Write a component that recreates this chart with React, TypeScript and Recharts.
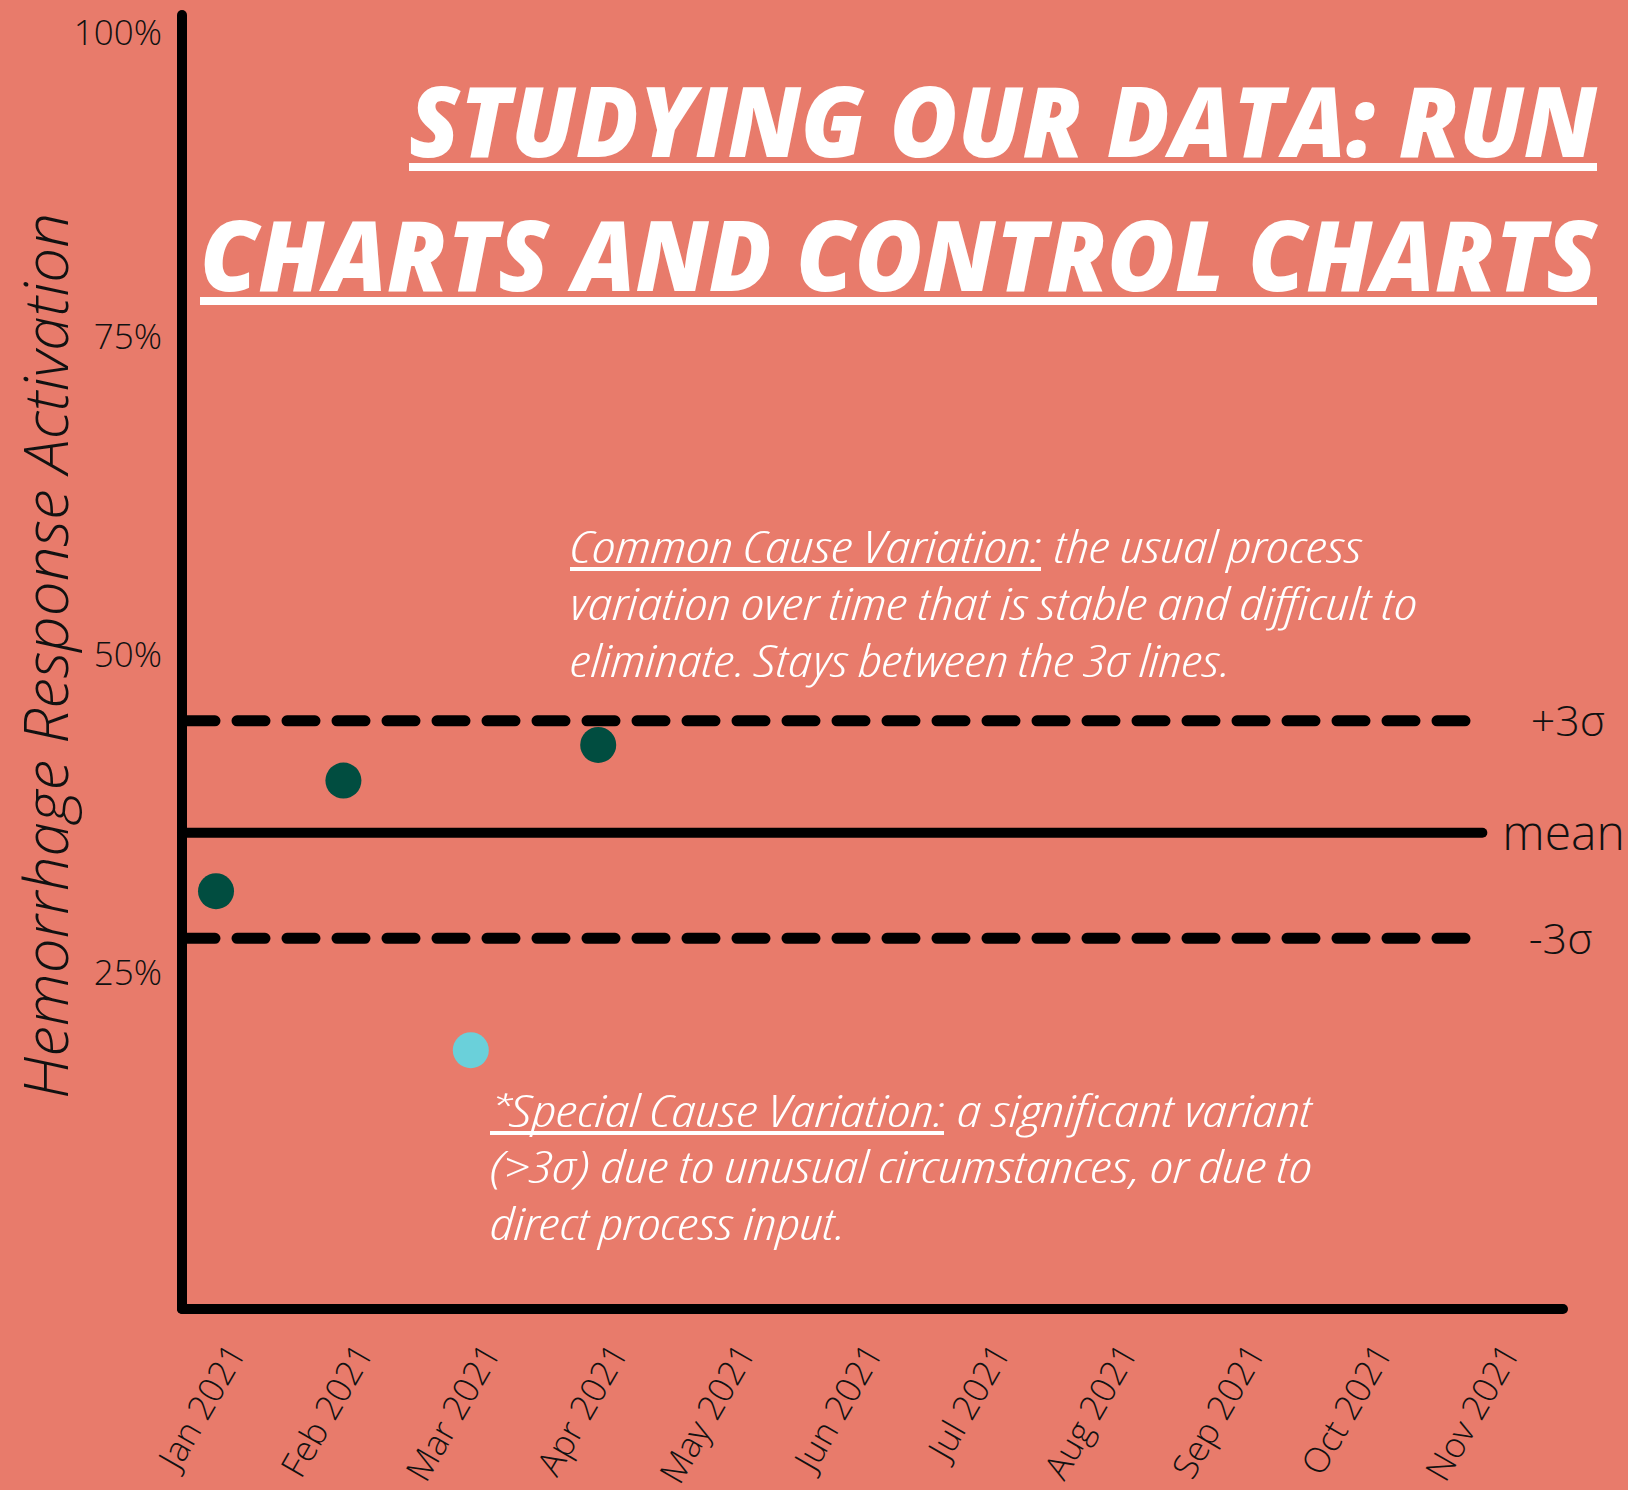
import React from 'react';
import { ScatterChart, Scatter, XAxis, YAxis, ReferenceLine } from 'recharts';

// months on the x axis
const months = [
  'Jan 2021', 'Feb 2021', 'Mar 2021', 'Apr 2021', 'May 2021', 'Jun 2021',
  'Jul 2021', 'Aug 2021', 'Sep 2021', 'Oct 2021', 'Nov 2021',
];

// measured activation (%) for the months that have data
const activation = [31.4, 40.1, 18.9, 42.9];
const specialCause = [false, false, true, false];

const yTicks = [25, 50, 75, 100];

// control limits
const meanValue = 36;
const upperLimit = 44.8;
const lowerLimit = 27.7;

const BG = '#E87B6B';
const DARK = '#014D40';
const CYAN = '#6AD0DA';
const INK = '#111111';
const FONT = "'Open Sans', 'Noto Sans', sans-serif";

const points = activation.map((v, i) => ({ m: i, v, special: specialCause[i] }));

const axisLineStyle = { stroke: '#000', strokeWidth: 10, strokeLinecap: 'round' as const };

const MonthTick = (props: any) => {
  const { x, y, payload } = props;
  const ax = x + 31;
  const ay = y + 44;
  return (
    <text
      x={ax}
      y={ay}
      textAnchor="end"
      transform={`rotate(-60, ${ax}, ${ay})`}
      fontSize={35}
      fontWeight={300}
      fill={INK}
      fontFamily={FONT}
    >
      {months[payload.value]}
    </text>
  );
};

const PercentTick = (props: any) => {
  const { x, y, payload } = props;
  // keep the top label inside the page
  const ty = Math.max(y, 33);
  return (
    <text x={x} y={ty} dy="0.35em" textAnchor="end" fontSize={35} fontWeight={300} fill={INK} fontFamily={FONT}>
      {payload.value}%
    </text>
  );
};

const Dot = (p: any) => (
  <circle cx={p.cx} cy={p.cy} r={18} fill={p.payload.special ? CYAN : DARK} />
);

const limitLabel = (value: string, offset: number) => ({
  value,
  position: 'right' as const,
  offset,
  fill: INK,
  fontSize: value === 'mean' ? 48 : 43,
  fontWeight: 300,
  fontFamily: FONT,
});

const noteStyle = {
  fontFamily: FONT,
  fontStyle: 'italic',
  fontWeight: 300,
  fontStretch: 'condensed',
} as React.CSSProperties;

const X_MIN = -0.267;

export default function App() {
  return (
    <div style={{ position: 'absolute', left: 0, top: 0, width: 1628, height: 1490, background: BG, overflow: 'hidden' }}>
      <ScatterChart width={1628} height={1490} margin={{ top: 15, right: 65, bottom: 0, left: 0 }}>
        <XAxis
          dataKey="m"
          type="number"
          domain={[X_MIN, 10.573]}
          ticks={months.map((_, i) => i)}
          allowDataOverflow
          height={181}
          axisLine={axisLineStyle}
          tickLine={false}
          tickSize={0}
          tickMargin={0}
          tick={<MonthTick />}
          interval={0}
        />
        <YAxis
          dataKey="v"
          type="number"
          domain={[-1.45, 100.3]}
          ticks={yTicks}
          allowDataOverflow
          width={182}
          axisLine={axisLineStyle}
          tickLine={false}
          tickSize={0}
          tickMargin={20}
          tick={<PercentTick />}
          interval={0}
        />
        <ReferenceLine
          segment={[{ x: X_MIN, y: upperLimit }, { x: 9.81, y: upperLimit }]}
          stroke="#000"
          strokeWidth={11}
          strokeDasharray="28 22"
          strokeDashoffset={-5}
          strokeLinecap="round"
          label={limitLabel('+3σ', 65)}
        />
        <ReferenceLine
          segment={[{ x: X_MIN, y: meanValue }, { x: 9.94, y: meanValue }]}
          stroke="#000"
          strokeWidth={10}
          strokeLinecap="round"
          label={limitLabel('mean', 20)}
        />
        <ReferenceLine
          segment={[{ x: X_MIN, y: lowerLimit }, { x: 9.81, y: lowerLimit }]}
          stroke="#000"
          strokeWidth={11}
          strokeDasharray="28 22"
          strokeDashoffset={-5}
          strokeLinecap="round"
          label={limitLabel('-3σ', 63)}
        />
        <Scatter data={points} isAnimationActive={false} shape={<Dot />} />
      </ScatterChart>

      <svg
        width={1628}
        height={1490}
        style={{ position: 'absolute', left: 0, top: 0, pointerEvents: 'none' }}
      >
        {/* Title */}
        <g fill="#fff" fontFamily={FONT} fontStyle="italic" fontWeight={800} fontSize={98}>
          <text x={409} y={157} textLength={1188} lengthAdjust="spacingAndGlyphs">
            STUDYING OUR DATA: RUN
          </text>
          <rect x={409} y={163} width={1188} height={8} />
          <text x={200} y={291} textLength={1397} lengthAdjust="spacingAndGlyphs">
            CHARTS AND CONTROL CHARTS
          </text>
          <rect x={200} y={297} width={1397} height={8} />
        </g>

        {/* Axis title */}
        <text
          x={68}
          y={656}
          textAnchor="middle"
          transform="rotate(-90, 68, 656)"
          fontFamily={FONT}
          fontStyle="italic"
          fontWeight={300}
          fontSize={60}
          fill={INK}
          textLength={886}
          lengthAdjust="spacingAndGlyphs"
        >
          Hemorrhage Response Activation
        </text>

        {/* Common cause note */}
        <g fill="#fff" fontSize={44} style={noteStyle}>
          <text x={570} y={563} textLength={471} lengthAdjust="spacingAndGlyphs">Common Cause Variation:</text>
          <rect x={570} y={567} width={471} height={4} />
          <text x={1054} y={563} textLength={308} lengthAdjust="spacingAndGlyphs">the usual process</text>
          <text x={570} y={620} textLength={847} lengthAdjust="spacingAndGlyphs">
            variation over time that is stable and difficult to
          </text>
          <text x={570} y={677} textLength={660} lengthAdjust="spacingAndGlyphs">
            eliminate. Stays between the 3σ lines.
          </text>
        </g>

        {/* Special cause note */}
        <g fill="#fff" fontSize={44} style={noteStyle}>
          <text x={490} y={1127} textLength={454} lengthAdjust="spacingAndGlyphs">*Special Cause Variation:</text>
          <rect x={490} y={1131} width={454} height={4} />
          <text x={957} y={1127} textLength={355} lengthAdjust="spacingAndGlyphs">a significant variant</text>
          <text x={490} y={1183} textLength={822} lengthAdjust="spacingAndGlyphs">
            (&gt;3σ) due to unusual circumstances, or due to
          </text>
          <text x={490} y={1240} textLength={355} lengthAdjust="spacingAndGlyphs">direct process input.</text>
        </g>
      </svg>
    </div>
  );
}
